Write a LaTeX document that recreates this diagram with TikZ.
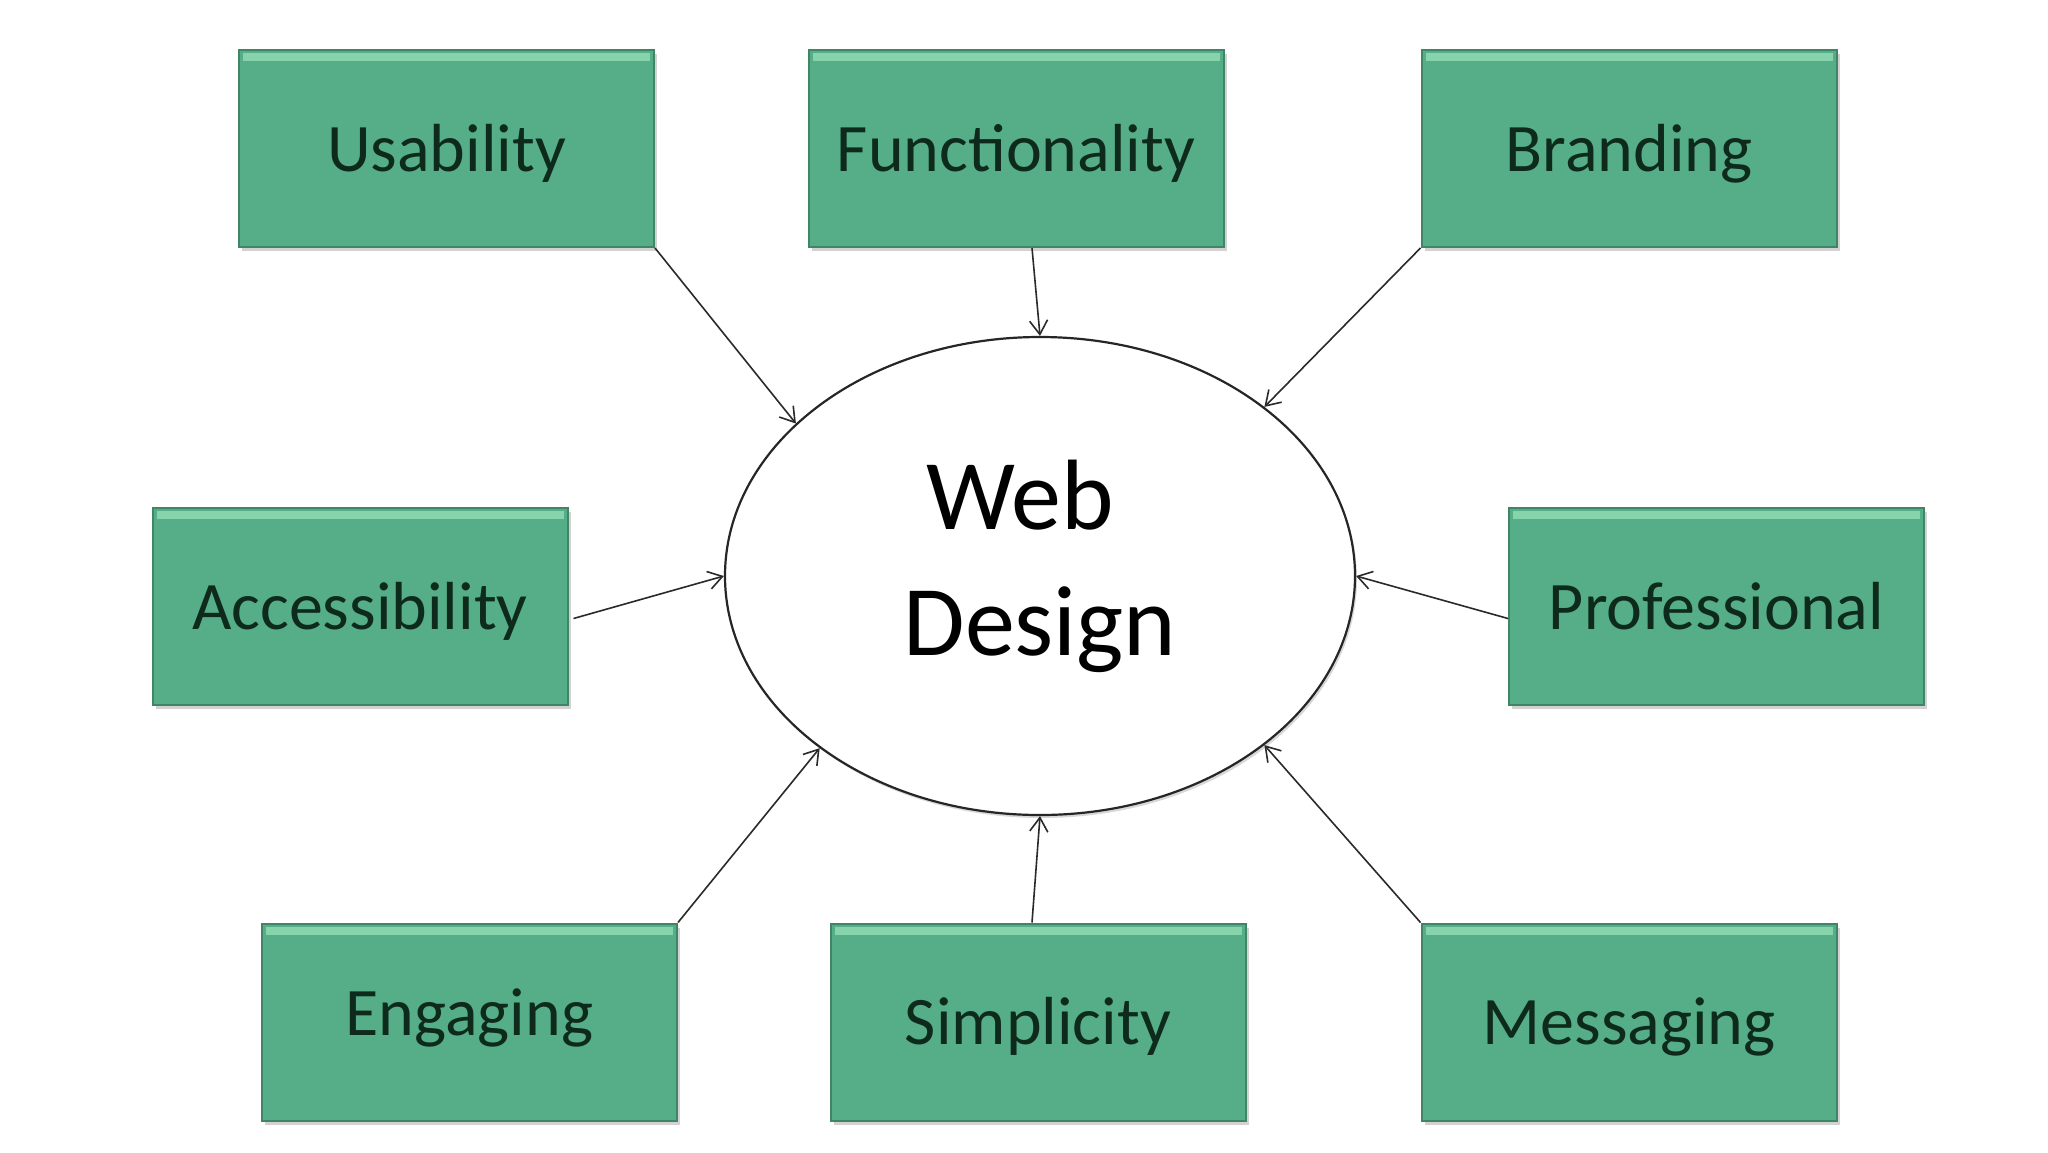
\documentclass[tikz,border=0pt]{standalone}
\usepackage{fontspec}
\setmainfont{Carlito}
\usetikzlibrary{shapes.geometric,arrows.meta,shadows,calc}
\definecolor{boxfill}{HTML}{55AE87}
\definecolor{boxedge}{HTML}{3F8566}
\definecolor{boxtop}{HTML}{86D3AC}
\definecolor{boxtext}{HTML}{0E2A1C}
\definecolor{arrowcol}{HTML}{2A2A2A}
\tikzset{
  greenbox/.style={rectangle, draw=boxedge, line width=2pt, fill=boxfill,
    minimum width=415pt, minimum height=197pt, inner sep=0pt,
    text height=60pt, text depth=15pt,
    font=\fontsize{68}{80}\selectfont, text=boxtext,
    drop shadow={shadow xshift=3pt, shadow yshift=-4pt, opacity=0.35},
    path picture={\fill[boxtop] ($(path picture bounding box.north west)+(4pt,-3pt)$) rectangle ($(path picture bounding box.north east)+(-4pt,-11pt)$);}},
  centreoval/.style={ellipse, draw=black!85, line width=2.2pt, fill=white,
    minimum width=630pt, minimum height=478pt, inner sep=0pt,
    drop shadow={shadow xshift=2pt, shadow yshift=-3pt, opacity=0.3}},
  ovaltext/.style={align=center, inner sep=0pt, font=\fontsize{100}{124}\selectfont},
  conn/.style={draw=arrowcol, line width=1.6pt, -{Straight Barb[length=14pt,width=18pt,line width=1.6pt]}}
}
\begin{document}
\begin{tikzpicture}[x=1pt,y=-1pt]
\fill[white] (0,0) rectangle (2048,1152);
\useasboundingbox (0,0) rectangle (2048,1152);

\node[greenbox] (us) at (446.5,148.5) {Usability};
\node[greenbox] (fu) at (1016,148.5) {Functionality};
\node[greenbox] (br) at (1629,148.5) {Branding};
\node[greenbox] (ac) at (360,606.5) {Accessibility};
\node[greenbox] (pr) at (1716.5,606.5) {Professional};
\node[greenbox] (en) at (469.5,1022) {\raisebox{9pt}{Engaging}};
\node[greenbox] (si) at (1038,1022) {Simplicity};
\node[greenbox] (me) at (1629,1022) {Messaging};

\node[centreoval] (wd) at (1040,576) {};
\node[ovaltext] (wdtext) at ($(wd.center)+(0,-10)$) {\raisebox{2pt}{\hspace*{-40pt}Web}\\Design};

\draw[conn] (us.south east) -- (wd.148);
\draw[conn] ($(fu.south)+(16,0)$) -- (wd.90);
\draw[conn] (br.south west) -- (wd.37);
\draw[conn] ($(ac.east)+(5,12)$) -- (wd.180);
\draw[conn] ($(pr.west)+(0,12)$) -- (wd.0);
\draw[conn] (en.north east) -- (wd.218);
\draw[conn] ($(si.north)+(-6,0)$) -- (wd.270);
\draw[conn] (me.north west) -- (wd.323);
\end{tikzpicture}
\end{document}
